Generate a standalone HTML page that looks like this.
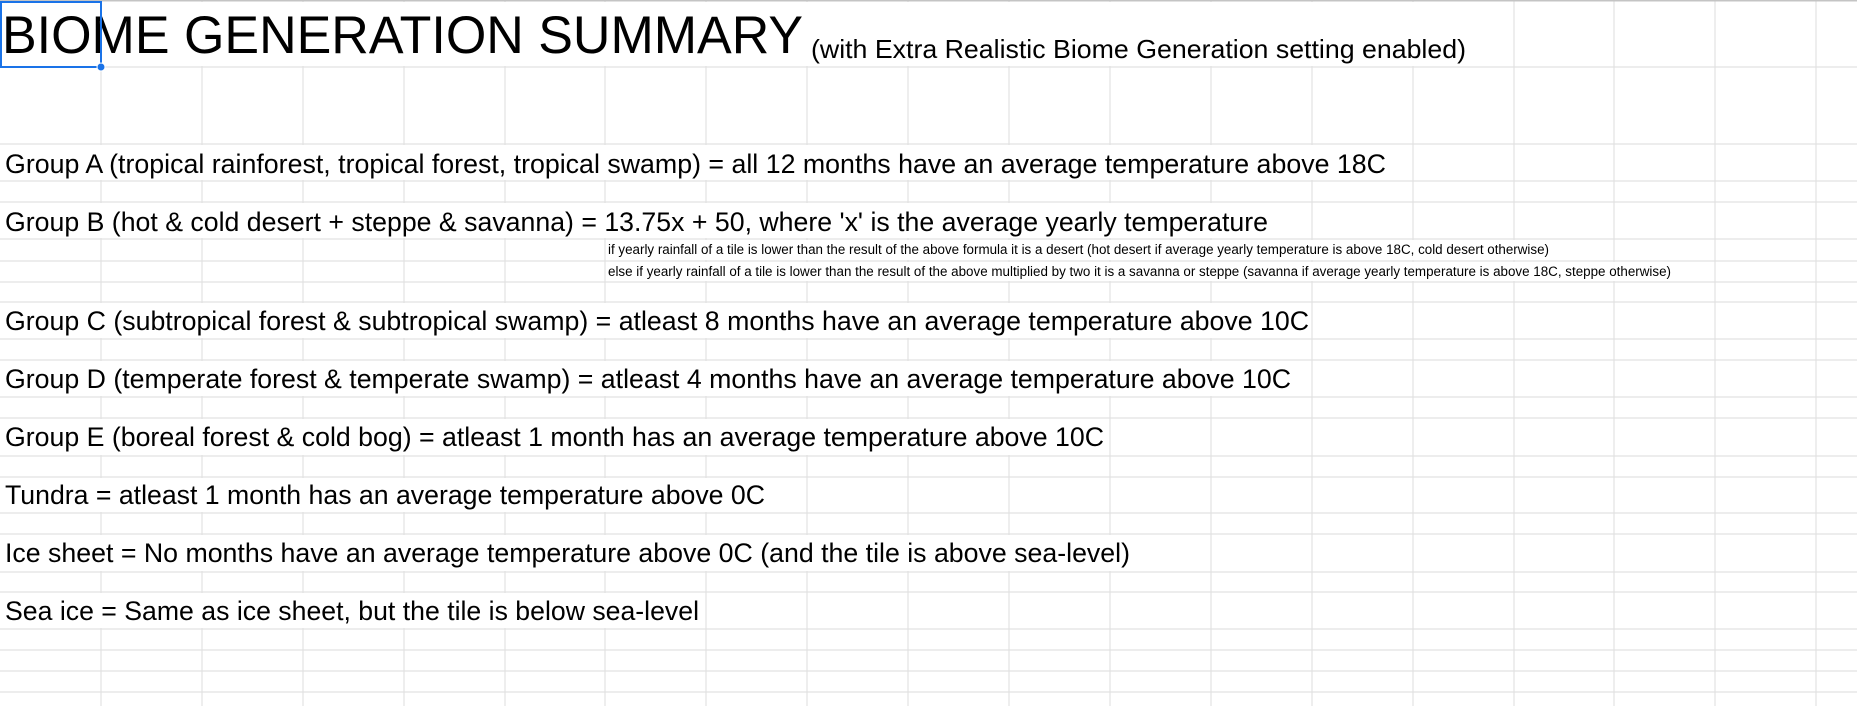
<!DOCTYPE html>
<html><head><meta charset="utf-8"><style>html,body{margin:0;padding:0;background:#fff}svg{display:block}</style></head>
<body>
<svg width="1857" height="706" viewBox="0 0 1857 706" xmlns="http://www.w3.org/2000/svg" font-family="'Liberation Sans', Arial, sans-serif">
<rect width="1857" height="706" fill="#fff"/>
<g stroke="#e2e2e2" stroke-width="1.2">
<line x1="0" y1="67" x2="1857" y2="67"/><line x1="0" y1="144" x2="1857" y2="144"/><line x1="0" y1="181" x2="1857" y2="181"/><line x1="0" y1="202" x2="1857" y2="202"/><line x1="0" y1="239" x2="1857" y2="239"/><line x1="0" y1="261" x2="1857" y2="261"/><line x1="0" y1="282" x2="1857" y2="282"/><line x1="0" y1="302" x2="1857" y2="302"/><line x1="0" y1="339" x2="1857" y2="339"/><line x1="0" y1="360" x2="1857" y2="360"/><line x1="0" y1="397" x2="1857" y2="397"/><line x1="0" y1="418" x2="1857" y2="418"/><line x1="0" y1="456" x2="1857" y2="456"/><line x1="0" y1="477" x2="1857" y2="477"/><line x1="0" y1="513" x2="1857" y2="513"/><line x1="0" y1="534" x2="1857" y2="534"/><line x1="0" y1="572" x2="1857" y2="572"/><line x1="0" y1="592" x2="1857" y2="592"/><line x1="0" y1="629" x2="1857" y2="629"/><line x1="0" y1="650" x2="1857" y2="650"/><line x1="0" y1="671" x2="1857" y2="671"/><line x1="0" y1="692" x2="1857" y2="692"/>
<line x1="101" y1="0" x2="101" y2="706"/><line x1="202" y1="0" x2="202" y2="706"/><line x1="303" y1="0" x2="303" y2="706"/><line x1="404" y1="0" x2="404" y2="706"/><line x1="505" y1="0" x2="505" y2="706"/><line x1="605" y1="0" x2="605" y2="706"/><line x1="706" y1="0" x2="706" y2="706"/><line x1="807" y1="0" x2="807" y2="706"/><line x1="908" y1="0" x2="908" y2="706"/><line x1="1009" y1="0" x2="1009" y2="706"/><line x1="1110" y1="0" x2="1110" y2="706"/><line x1="1211" y1="0" x2="1211" y2="706"/><line x1="1312" y1="0" x2="1312" y2="706"/><line x1="1413" y1="0" x2="1413" y2="706"/><line x1="1514" y1="0" x2="1514" y2="706"/><line x1="1614" y1="0" x2="1614" y2="706"/><line x1="1715" y1="0" x2="1715" y2="706"/><line x1="1816" y1="0" x2="1816" y2="706"/>
</g>
<line x1="0" y1="0.5" x2="1857" y2="0.5" stroke="#c4c4c4" stroke-width="2"/>
<g fill="#fff">
<rect x="0" y="2" width="1513" height="64"/>
<rect x="0" y="145" width="1412" height="35"/>
<rect x="0" y="203" width="1311" height="35"/>
<rect x="606" y="240" width="1007" height="20"/>
<rect x="606" y="262" width="1108" height="19"/>
<rect x="0" y="303" width="1311" height="35"/>
<rect x="0" y="361" width="1311" height="35"/>
<rect x="0" y="419" width="1109" height="36"/>
<rect x="0" y="478" width="806" height="34"/>
<rect x="0" y="535" width="1210" height="36"/>
<rect x="0" y="593" width="705" height="35"/>
</g>
<g fill="#000">
<text x="2" y="53" font-size="53" textLength="801" lengthAdjust="spacingAndGlyphs">BIOME GENERATION SUMMARY</text>
<text x="811" y="58" font-size="26" textLength="655" lengthAdjust="spacingAndGlyphs">(with Extra Realistic Biome Generation setting enabled)</text>
<text x="5" y="173" font-size="26.5" textLength="1381" lengthAdjust="spacingAndGlyphs">Group A (tropical rainforest, tropical forest, tropical swamp) = all 12 months have an average temperature above 18C</text>
<text x="5" y="231" font-size="26.5" textLength="1263" lengthAdjust="spacingAndGlyphs">Group B (hot &amp; cold desert + steppe &amp; savanna) = 13.75x + 50, where 'x' is the average yearly temperature</text>
<text x="608" y="254" font-size="13.5" textLength="941" lengthAdjust="spacingAndGlyphs">if yearly rainfall of a tile is lower than the result of the above formula it is a desert (hot desert if average yearly temperature is above 18C, cold desert otherwise)</text>
<text x="608" y="276" font-size="13.5" textLength="1063" lengthAdjust="spacingAndGlyphs">else if yearly rainfall of a tile is lower than the result of the above multiplied by two it is a savanna or steppe (savanna if average yearly temperature is above 18C, steppe otherwise)</text>
<text x="5" y="330" font-size="26.5" textLength="1304" lengthAdjust="spacingAndGlyphs">Group C (subtropical forest &amp; subtropical swamp) = atleast 8 months have an average temperature above 10C</text>
<text x="5" y="388" font-size="26.5" textLength="1286" lengthAdjust="spacingAndGlyphs">Group D (temperate forest &amp; temperate swamp) = atleast 4 months have an average temperature above 10C</text>
<text x="5" y="446" font-size="26.5" textLength="1099" lengthAdjust="spacingAndGlyphs">Group E (boreal forest &amp; cold bog) = atleast 1 month has an average temperature above 10C</text>
<text x="5" y="504" font-size="26.5" textLength="760" lengthAdjust="spacingAndGlyphs">Tundra = atleast 1 month has an average temperature above 0C</text>
<text x="5" y="562" font-size="26.5" textLength="1125" lengthAdjust="spacingAndGlyphs">Ice sheet = No months have an average temperature above 0C (and the tile is above sea-level)</text>
<text x="5" y="620" font-size="26.5" textLength="694" lengthAdjust="spacingAndGlyphs">Sea ice = Same as ice sheet, but the tile is below sea-level</text>
</g>
<rect x="1" y="2" width="100" height="65" fill="none" stroke="#1a73e8" stroke-width="2"/>
<circle cx="101" cy="67" r="4" fill="#1a73e8" stroke="#fff" stroke-width="1"/>
</svg>
</body></html>
